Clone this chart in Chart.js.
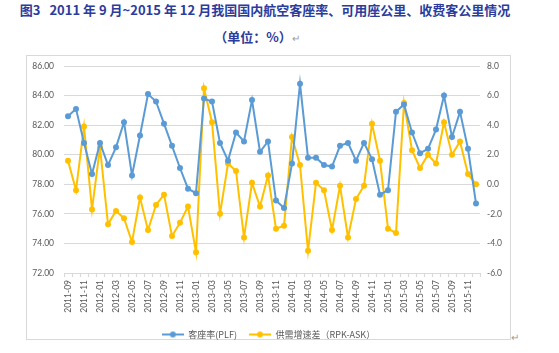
<!DOCTYPE html>
<html><head><meta charset="utf-8">
<script src="https://cdn.jsdelivr.net/npm/chart.js@4"></script>
<style>
html,body{margin:0;padding:0;background:#fff;}
body{width:559px;height:353px;position:relative;overflow:hidden;font-family:"Noto Sans CJK SC",sans-serif;}
#t1{position:absolute;left:0;top:1px;width:530px;text-align:center;color:#2b3c9c;font-size:13px;line-height:18px;white-space:nowrap;font-weight:bold;}
#t2{position:absolute;left:0;top:28px;width:514px;text-align:center;color:#2b3c9c;font-size:13px;line-height:18px;white-space:nowrap;font-weight:bold;}
.pm{color:#9a9a9a;font-size:10px;font-weight:normal;}
#box{position:absolute;left:26px;top:55px;width:485px;height:285px;box-sizing:border-box;border:1px solid #d9d9d9;}
#c{position:absolute;left:26px;top:55px;}
#pm2{position:absolute;left:511px;top:329px;color:#9a9a9a;font-size:10px;}
</style>
</head><body>
<div id="t1">图3&nbsp;&nbsp;&nbsp;2011 年 9 月~2015 年 12 月我国国内航空客座率、可用座公里、收费客公里情况</div>
<div id="t2">（单位：%）<span class="pm">↵</span></div>
<div id="box"></div>
<canvas id="c" width="485" height="285"></canvas>
<div id="pm2">↵</div>
<script>
const months = [
 "2011-09","2011-10","2011-11","2011-12",
 "2012-01","2012-02","2012-03","2012-04","2012-05","2012-06","2012-07","2012-08","2012-09","2012-10","2012-11","2012-12",
 "2013-01","2013-02","2013-03","2013-04","2013-05","2013-06","2013-07","2013-08","2013-09","2013-10","2013-11","2013-12",
 "2014-01","2014-02","2014-03","2014-04","2014-05","2014-06","2014-07","2014-08","2014-09","2014-10","2014-11","2014-12",
 "2015-01","2015-02","2015-03","2015-04","2015-05","2015-06","2015-07","2015-08","2015-09","2015-10","2015-11","2015-12"
];
const plf = [
 82.6,83.1,80.8,78.7,
 80.8,79.3,80.5,82.2,78.6,81.3,84.1,83.6,82.1,80.6,79.1,77.7,
 77.4,83.8,83.6,80.8,79.6,81.5,80.9,83.7,80.2,80.9,76.9,76.4,
 79.4,84.8,79.8,79.8,79.3,79.2,80.6,80.8,79.6,80.8,79.7,77.3,
 77.6,82.9,83.4,81.5,80.1,80.4,81.7,84.0,81.2,82.9,80.4,76.7
];
const gap = [
 1.6,-0.4,3.9,-1.7,
 2.5,-2.7,-1.8,-2.3,-3.9,-0.9,-3.1,-1.4,-0.7,-3.5,-2.6,-1.5,
 -4.6,6.5,4.2,-2.0,1.4,0.9,-3.6,0.1,-1.5,0.6,-3.0,-2.8,
 3.2,1.3,-4.5,0.1,-0.4,-3.1,-0.1,-3.6,-1.0,-0.1,4.1,1.6,
 -3.0,-3.3,5.5,2.3,1.1,2.0,1.4,4.2,2.0,2.9,0.7,0.0
];
const seriesNames = ["客座率(PLF)", "供需增速差（RPK-ASK）"];
const leftTicks = [72,74,76,78,80,82,84,86];
const rightTicks = [-6,-4,-2,0,2,4,6,8];

const BLUE = "#5b9bd5", GOLD = "#ffc000";
function legendIcon(color){
  const cv = document.createElement("canvas");
  cv.width = 22; cv.height = 8;
  const g = cv.getContext("2d");
  g.strokeStyle = color; g.lineWidth = 2;
  g.beginPath(); g.moveTo(0,4); g.lineTo(22,4); g.stroke();
  g.fillStyle = color; g.beginPath(); g.arc(11,4,3,0,Math.PI*2); g.fill();
  return cv;
}
const icons = [legendIcon(BLUE), legendIcon(GOLD)];
const tickFont = {family:"Lato, 'Liberation Sans', sans-serif", size:8.5};
const tickColor = "#595959";

const legendHeightFix = {
  id: "legendHeightFix",
  beforeLayout(chart){
    const lg = chart.legend;
    if (lg && !lg._fixed){
      const f = lg.fit.bind(lg);
      lg.fit = function(){ f(); this.height = 22; };
      lg._fixed = true;
    }
  }
};

new Chart(document.getElementById("c"), {
  type: "line",
  plugins: [legendHeightFix],
  data: {
    labels: months,
    datasets: [
      {label: seriesNames[0], data: plf, yAxisID: "yL", borderColor: BLUE, backgroundColor: BLUE,
       borderWidth: 2, pointRadius: 3, pointBorderWidth: 0, pointBackgroundColor: BLUE, tension: 0},
      {label: seriesNames[1], data: gap, yAxisID: "yR", borderColor: GOLD, backgroundColor: GOLD,
       borderWidth: 2, pointRadius: 3, pointBorderWidth: 0, pointBackgroundColor: GOLD, tension: 0}
    ]
  },
  options: {
    responsive: false, animation: false, devicePixelRatio: 1,
    layout: {padding: {top: 11, left: 0, right: 0, bottom: 0}},
    plugins: {
      tooltip: {enabled: false},
      legend: {
        position: "bottom",
        labels: {
          usePointStyle: true, pointStyleWidth: 22, boxHeight: 8, padding: 12,
          color: tickColor, font: {family: "'Noto Sans CJK SC', sans-serif", size: 9},
          generateLabels(chart){
            const items = Chart.defaults.plugins.legend.labels.generateLabels(chart);
            items.forEach((it,i)=>{ it.pointStyle = icons[i]; });
            return items;
          }
        }
      }
    },
    scales: {
      x: {
        offset: true,
        grid: {display: true, drawOnChartArea: false, tickLength: 4, color: "#d9d9d9", offset: true},
        border: {display: true, color: "#d9d9d9"},
        ticks: {autoSkip: false, maxRotation: 90, minRotation: 90, padding: 3, color: tickColor, font: tickFont,
          callback(v, i){ return i % 2 === 0 ? months[i] : ""; }},
        afterFit(s){ s.height = 45; }
      },
      yL: {
        position: "left", min: 72, max: 86,
        afterBuildTicks(s){ s.ticks = leftTicks.map(v=>({value:v})); },
        grid: {color: "#d9d9d9", drawTicks: false},
        border: {display: false},
        ticks: {padding: 10, color: tickColor, font: tickFont, callback: v => v.toFixed(2)},
        afterFit(s){ s.width = 38; s.paddingTop = 5; s.paddingBottom = 5; }
      },
      yR: {
        position: "right", min: -6, max: 8,
        afterBuildTicks(s){ s.ticks = rightTicks.map(v=>({value:v})); },
        grid: {display: false, drawTicks: false},
        border: {display: false},
        ticks: {padding: 7, color: tickColor, font: tickFont, callback: v => v.toFixed(1)},
        afterFit(s){ s.width = 31; s.paddingTop = 5; s.paddingBottom = 5; }
      }
    }
  }
});
</script>
</body></html>
